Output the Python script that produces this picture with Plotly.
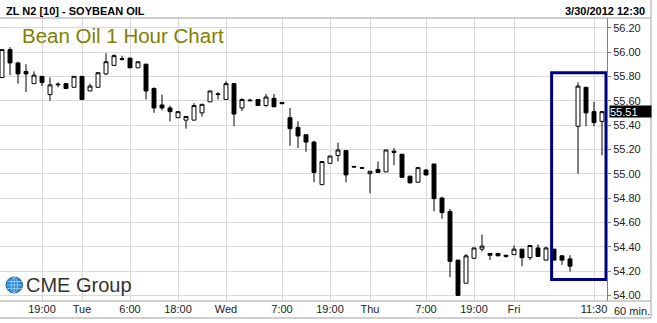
import plotly.graph_objects as go

# ---- data (60-minute bars, ZL N2 soybean oil) ----
open_ = [55.79, 56.02, 55.91, 55.84, 55.74, 55.80, 55.65, 55.73, 55.74, 55.71,
         55.80, 55.68, 55.71, 55.82, 55.89, 55.945, 55.95, 55.87, 55.90, 55.70,
         55.565, 55.54, 55.46, 55.44, 55.44, 55.50, 55.59, 55.65, 55.61, 55.74,
         55.54, 55.605, 55.61, 55.56, 55.62, 55.585, 55.46, 55.38, 55.32, 55.26,
         54.91, 55.085, 55.15, 55.19, 55.06, 55.05, 55.00, 55.035, 55.015, 55.185,
         55.16, 54.98, 54.93, 55.03, 55.08, 54.80, 54.69, 54.29, 54.10, 54.305,
         54.38, 54.345, 54.345, 54.33, 54.335, 54.38, 54.31, 54.39, 54.29, 54.38,
         54.325, 54.30, 55.39, 55.71, 55.51, 55.43]
high = [56.02, 56.04, 55.92, 55.90, 55.84, 55.80, 55.79, 55.75, 55.74, 55.80,
        55.80, 55.74, 55.83, 55.99, 55.98, 55.97, 55.95, 55.92, 55.90, 55.71,
        55.65, 55.56, 55.51, 55.47, 55.58, 55.57, 55.68, 55.67, 55.76, 55.74,
        55.62, 55.615, 55.61, 55.655, 55.655, 55.59, 55.54, 55.43, 55.32, 55.27,
        55.10, 55.145, 55.255, 55.19, 55.06, 55.05, 55.02, 55.10, 55.195, 55.21,
        55.16, 54.98, 55.05, 55.04, 55.08, 54.81, 54.71, 54.29, 54.34, 54.39,
        54.50, 54.345, 54.345, 54.33, 54.41, 54.38, 54.41, 54.42, 54.40, 54.38,
        54.33, 54.33, 55.75, 55.71, 55.59, 55.51]
low = [55.79, 55.81, 55.74, 55.67, 55.74, 55.72, 55.60, 55.71, 55.70, 55.71,
       55.61, 55.68, 55.71, 55.81, 55.89, 55.93, 55.87, 55.87, 55.61, 55.50,
       55.52, 55.43, 55.46, 55.37, 55.44, 55.47, 55.59, 55.61, 55.61, 55.39,
       55.515, 55.60, 55.56, 55.55, 55.55, 55.575, 55.23, 55.21, 55.18, 54.93,
       54.91, 55.085, 55.10, 54.93, 55.055, 55.045, 54.84, 55.01, 55.015, 55.07,
       54.97, 54.92, 54.93, 54.985, 54.69, 54.63, 54.15, 54.00, 54.10, 54.305,
       54.36, 54.29, 54.325, 54.31, 54.335, 54.24, 54.29, 54.32, 54.29, 54.29,
       54.25, 54.195, 55.00, 55.39, 55.39, 55.15]
close = [56.02, 55.91, 55.82, 55.82, 55.81, 55.75, 55.73, 55.735, 55.70, 55.80,
         55.61, 55.72, 55.83, 55.92, 55.97, 55.94, 55.87, 55.92, 55.68, 55.54,
         55.54, 55.51, 55.51, 55.47, 55.56, 55.57, 55.68, 55.655, 55.74, 55.49,
         55.61, 55.60, 55.56, 55.63, 55.55, 55.575, 55.37, 55.31, 55.26, 55.01,
         55.10, 55.145, 55.195, 54.99, 55.055, 55.045, 55.02, 55.01, 55.195, 55.175,
         54.97, 54.925, 55.05, 54.99, 54.795, 54.68, 54.28, 54.00, 54.325, 54.39,
         54.405, 54.33, 54.325, 54.32, 54.38, 54.31, 54.41, 54.32, 54.39, 54.29,
         54.29, 54.24, 55.72, 55.50, 55.42, 55.51]

bar_index = list(range(len(close)))

# time-axis labels (bar index -> label)
tick_bars = [5, 10, 16, 22, 28, 35, 41, 46, 53, 59, 64, 74]
tick_labels = ["19:00", "Tue", "6:00", "18:00", "Wed", "7:00", "19:00", "Thu",
               "7:00", "19:00", "Fri", "11:30"]

price_ticks = [54.00, 54.20, 54.40, 54.60, 54.80, 55.00, 55.20, 55.40, 55.60,
               55.80, 56.00, 56.20]

# highlighted region (bars / prices)
box_bars = [68.7, 75.5]
box_prices = [54.13, 55.83]

FONT = "Liberation Sans, Arial, Helvetica, sans-serif"
W, H = 657, 323
L, R, T, B = 0, 50, 18, 22
PW, PH = W - L - R, H - T - B


def px(xp):
    return (xp - L) / PW


def py(yp):
    return (H - B - yp) / PH


fig = go.Figure()
fig.add_trace(go.Candlestick(
    x=bar_index, open=open_, high=high, low=low, close=close,
    increasing=dict(line=dict(color="black", width=1), fillcolor="white"),
    decreasing=dict(line=dict(color="black", width=1), fillcolor="black"),
    whiskerwidth=0, showlegend=False, hoverinfo="skip",
))

fig.update_layout(
    width=W, height=H,
    margin=dict(l=L, r=R, t=T, b=B, pad=0),
    paper_bgcolor="white", plot_bgcolor="white",
    font=dict(family=FONT, size=11, color="#222"),
    showlegend=False,
    xaxis=dict(
        range=[-0.25, -0.25 + PW / 8.0],
        tickmode="array", tickvals=tick_bars, ticktext=tick_labels,
        showgrid=True, gridcolor="#dadada", gridwidth=1,
        zeroline=False, showline=False, ticks="",
        rangeslider=dict(visible=False),
        tickfont=dict(family=FONT, size=11, color="#222"),
    ),
    yaxis=dict(
        side="right",
        range=[56.0 - 249 / 121.7, 56.0 + 34 / 121.7],
        tickmode="array", tickvals=price_ticks,
        ticktext=[f"{v:.2f}" for v in price_ticks],
        showgrid=True, gridcolor="#dadada", gridwidth=1,
        zeroline=False, showline=True, linecolor="#808080", linewidth=1,
        ticks="outside", ticklen=3, tickcolor="#808080",
        tickfont=dict(family=FONT, size=11, color="#222"),
    ),
)

shapes = []
frame = "#a0a0a0"
# header / footer rules and frame
for yy in (18, 301, 318):
    shapes.append(dict(type="line", xref="paper", yref="paper",
                       x0=px(0), x1=px(651), y0=py(yy), y1=py(yy),
                       line=dict(color=frame, width=1)))
shapes.append(dict(type="line", xref="paper", yref="paper",
                   x0=px(651), x1=px(651), y0=py(0), y1=py(318),
                   line=dict(color=frame, width=1)))
# highlight box
shapes.append(dict(type="rect", xref="x", yref="y",
                   x0=box_bars[0], x1=box_bars[1], y0=box_prices[0], y1=box_prices[1],
                   line=dict(color="#000080", width=3), fillcolor="rgba(0,0,0,0)",
                   layer="above"))
# CME globe
shapes.append(dict(type="circle", xref="paper", yref="paper",
                   x0=px(6), x1=px(22.5), y0=py(293), y1=py(277),
                   line=dict(color="#1a6db5", width=1), fillcolor="#2e86cc"))
shapes.append(dict(type="circle", xref="paper", yref="paper",
                   x0=px(11), x1=px(17.5), y0=py(293), y1=py(277),
                   line=dict(color="#8fc6f0", width=1), fillcolor="rgba(0,0,0,0)"))
for yy in (281.5, 285, 288.5):
    shapes.append(dict(type="line", xref="paper", yref="paper",
                       x0=px(7), x1=px(21.5), y0=py(yy), y1=py(yy),
                       line=dict(color="#8fc6f0", width=1)))
shapes.append(dict(type="line", xref="paper", yref="paper",
                   x0=px(14.25), x1=px(14.25), y0=py(292.5), y1=py(277.5),
                   line=dict(color="#8fc6f0", width=1)))
fig.update_layout(shapes=shapes)

ann = []
ann.append(dict(text="<b>ZL N2 [10] - SOYBEAN OIL</b>", xref="paper", yref="paper",
                x=px(4), y=py(11), xanchor="left", yanchor="middle", showarrow=False,
                font=dict(family=FONT, size=11, color="black")))
ann.append(dict(text="<b>3/30/2012 12:30</b>", xref="paper", yref="paper",
                x=px(647), y=py(11), xanchor="right", yanchor="middle", showarrow=False,
                font=dict(family=FONT, size=11, color="black")))
ann.append(dict(text="Bean Oil 1 Hour Chart", xref="paper", yref="paper",
                x=px(20), y=py(35), xanchor="left", yanchor="middle", showarrow=False,
                font=dict(family=FONT, size=20.5, color="#808000")))
ann.append(dict(text="CME Group", xref="paper", yref="paper",
                x=px(24), y=py(285), xanchor="left", yanchor="middle", showarrow=False,
                font=dict(family=FONT, size=20, color="#333333")))
ann.append(dict(text="60 min.", xref="paper", yref="paper",
                x=px(612), y=py(311), xanchor="left", yanchor="middle", showarrow=False,
                font=dict(family=FONT, size=11, color="#222")))
last = close[-1]
ann.append(dict(text=f"{last:.2f}", xref="paper", yref="y",
                x=px(609), y=last, xanchor="left", yanchor="middle", showarrow=False,
                width=41, height=11, align="left", bgcolor="black", borderpad=0,
                font=dict(family=FONT, size=11, color="white")))
fig.update_layout(annotations=ann)

fig.write_html("out.html")
